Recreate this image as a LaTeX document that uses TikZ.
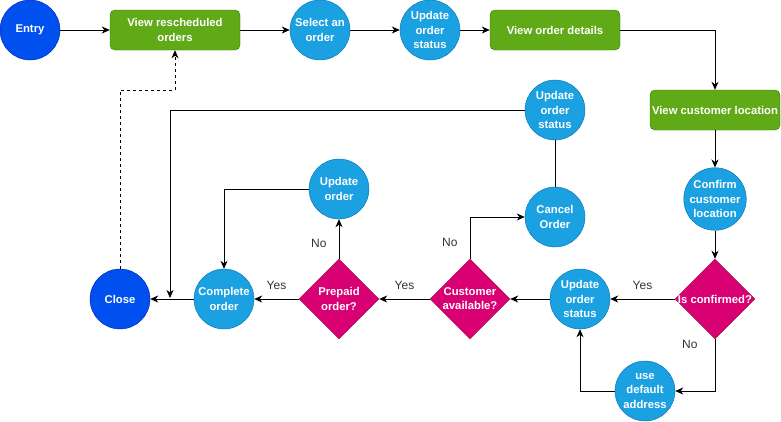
\documentclass[tikz,border=0pt]{standalone}
\usepackage{fontspec}
\setmainfont{Liberation Sans}
\usepackage{tikz}
\usetikzlibrary{arrows.meta,positioning,shapes.geometric}
\usepackage{xcolor}
\definecolor{termfill}{HTML}{0050EF}
\definecolor{termline}{HTML}{001DBC}
\definecolor{actfill}{HTML}{1BA1E2}
\definecolor{actline}{HTML}{006EAF}
\definecolor{viewfill}{HTML}{60A917}
\definecolor{viewline}{HTML}{2D7600}
\definecolor{askfill}{HTML}{D80073}
\definecolor{askline}{HTML}{A50040}

\begin{document}
\begin{tikzpicture}[x=1pt,y=-1pt,
    wtext/.style={text=white,font=\bfseries\fontsize{11.3}{14.2}\selectfont,align=center},
    terminal/.style={circle,wtext,fill=termfill,draw=termline,minimum size=60pt,inner sep=0pt},
    action/.style={circle,wtext,fill=actfill,draw=actline,minimum size=60pt,inner sep=0pt},
    screen/.style={rectangle,rounded corners=5pt,wtext,fill=viewfill,draw=viewline,minimum width=130pt,minimum height=40pt,inner sep=0pt},
    decision/.style={diamond,fill=askfill,draw=askline,minimum width=80pt,minimum height=80pt,inner sep=0pt},
    flow/.style={line width=0.9pt,-{Stealth[length=8pt,width=7pt,inset=2.5pt]}},
    plain/.style={line width=0.9pt},
    lbl/.style={text=black!80,font=\fontsize{12}{14}\selectfont,inner sep=0pt}]
    \useasboundingbox (0,0) rectangle (781,421);

    \node[terminal] (entry) at (30,30) {Entry};
    \node[screen] (resched) at (175,30) {View rescheduled\\orders};
    \node[action] (select) at (320,30) {Select an\\order};
    \node[action] (statusA) at (430,30) {Update\\order\\status};
    \node[screen] (details) at (555,30) {View order details};
    \node[screen] (location) at (715,110) {View customer location};
    \node[action] (confirmloc) at (715,199) {Confirm\\customer\\location};
    \node[decision,label={[wtext]center:Is confirmed?}] (confirmed) at (715,299) {};
    \node[action] (statusB) at (580,299) {Update\\order\\status};
    \node[action] (default) at (645,391) {use\\default\\address};
    \node[decision,label={[wtext]center:Customer\\available?}] (available) at (470,299) {};
    \node[action] (cancel) at (555,217) {Cancel\\Order};
    \node[action] (statusC) at (555,110) {Update\\order\\status};
    \node[decision,label={[wtext]center:Prepaid\\order?}] (prepaid) at (339,299) {};
    \node[action] (updorder) at (339,189) {Update\\order};
    \node[action] (complete) at (224,299) {Complete\\order};
    \node[terminal] (close) at (120,299) {Close};
    \coordinate (join) at (170,298);
    \coordinate (back) at (120,90);

    \draw[flow] (entry) -- (resched);
    \draw[flow] (resched) -- (select);
    \draw[flow] (select) -- (statusA);
    \draw[flow] (statusA) -- (details);
    \draw[flow] (details.east) -| (location.north);
    \draw[flow] (location) -- (confirmloc);
    \draw[flow] (confirmloc) -- (confirmed);
    \draw[flow] (confirmed.west) -- node[lbl,above=9pt] {Yes} (statusB.east);
    \draw[flow] (confirmed.south) |- node[lbl,pos=0.05,left=17pt] {No} (default.east);
    \draw[flow] (default.west) -| (statusB.south);
    \draw[flow] (statusB.west) -- (available.east);
    \draw[flow] (available.west) -- node[lbl,above=9pt] {Yes} (prepaid.east);
    \draw[flow] (available.north) |- node[lbl,pos=0.2,left=12pt] {No} (cancel.west);
    \draw[plain] (cancel) -- (statusC);
    \draw[flow] (statusC.west) -| (join);
    \draw[flow] (prepaid.west) -- node[lbl,above=9pt] {Yes} (complete.east);
    \draw[flow] (prepaid.north) -- node[lbl,pos=0.4,left=12pt] {No} (updorder.south);
    \draw[flow] (updorder.west) -| (complete.north);
    \draw[flow] (complete) -- (close);
    \draw[flow,dashed] (close.north) -- (back) -| (resched.south);
\end{tikzpicture}
\end{document}
